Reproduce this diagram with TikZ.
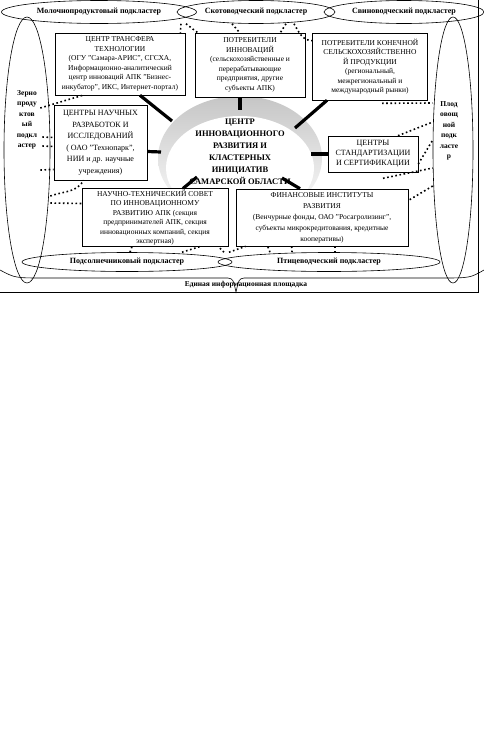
\documentclass[tikz,border=0pt]{standalone}
\usepackage{fontspec}
\setmainfont{Liberation Serif}
\usetikzlibrary{shapes.geometric, calc}
\tikzset{
  orgbox/.style={
    draw,
    fill=white,
    line width=0.6pt,
    align=center,
    inner sep=1pt,
    font=\fontsize{7.5}{9.5}\selectfont
  },
  cluster/.style={
    ellipse,
    draw,
    line width=0.6pt,
    inner sep=0pt,
    font=\fontsize{8}{9}\selectfont\bfseries
  },
  vlabel/.style={
    align=center,
    inner sep=0pt,
    font=\fontsize{7.5}{10.5}\selectfont\bfseries
  },
  hublink/.style={
    line width=3.2pt
  },
  dotlink/.style={
    line width=1.6pt,
    dash pattern=on 1.6pt off 2.6pt
  }
}
\begin{document}
\begin{tikzpicture}[x=1pt, y=-1pt]
  \useasboundingbox (0,0) rectangle (484,742);

  % Hub disc
  \node (hubdisc) [ellipse, minimum width=164pt, minimum height=124pt, top color=gray!45, bottom color=white, inner sep=0pt] at (240,158) {};
  \node (hubcore) [ellipse, minimum width=148pt, minimum height=104pt, fill=white, inner sep=0pt] at (240,168) {};

  % Hub link ends
  \coordinate (hk1) at (172,121);
  \coordinate (hk2) at (240,110);
  \coordinate (hk3) at (295,128);
  \coordinate (hk4) at (161,152);
  \coordinate (hk5) at (311,154);
  \coordinate (hk6) at (282,178);
  \coordinate (hk7) at (197,177);

  % Clusters
  \node (milk) [cluster, minimum width=195pt, minimum height=23pt] at (99,12) {Молочнопродуктовый подкластер};
  \node (skot) [cluster, minimum width=158pt, minimum height=23pt] at (256,12) {Скотоводческий подкластер};
  \node (pig) [cluster, minimum width=160pt, minimum height=23pt] at (404,12) {Свиноводческий подкластер};
  \node (grain) [cluster, minimum width=46pt, minimum height=266pt] at (27,150) {};
  \node (fruit) [cluster, minimum width=40pt, minimum height=266pt] at (453,150) {};
  \node (sun) [cluster, minimum width=210pt, minimum height=19pt] at (127,262) {Подсолнечниковый подкластер};
  \node (bird) [cluster, minimum width=222pt, minimum height=19pt] at (329,262) {Птицеводческий подкластер};
  \node (grainlbl) [vlabel] at (27,120) {Зерно\\проду\\ктов\\ый\\подкл\\астер};
  \node (fruitlbl) [vlabel] at (449,131) {Плод\\овощ\\ной\\подк\\ласте\\р};

  % Boxes
  \node (trans) [orgbox, minimum width=130pt, minimum height=62pt] at (120,64) {ЦЕНТР ТРАНСФЕРА\\ТЕХНОЛОГИИ\\(ОГУ "Самара-АРИС", СГСХА,\\Информационно-аналитический\\центр инноваций АПК "Бизнес-\\инкубатор", ИКС, Интернет-портал)};
  \node (users) [orgbox, minimum width=110pt, minimum height=64pt] at (250,65) {ПОТРЕБИТЕЛИ\\ИННОВАЦИЙ\\(сельскохозяйственные и\\перерабатывающие\\предприятия, другие\\субъекты АПК)};
  \node (market) [orgbox, minimum width=115pt, minimum height=67pt] at (370,66.5) {ПОТРЕБИТЕЛИ КОНЕЧНОЙ\\СЕЛЬСКОХОЗЯЙСТВЕННО\\Й ПРОДУКЦИИ\\(региональный,\\межрегиональный и\\международный рынки)};
  \node (science) [orgbox, font=\fontsize{8}{11.5}\selectfont, minimum width=93pt, minimum height=75pt] at (100.5,142.5) {ЦЕНТРЫ НАУЧНЫХ\\РАЗРАБОТОК И\\ИССЛЕДОВАНИЙ\\( ОАО "Технопарк",\\НИИ и др. научные\\учреждения)};
  \node (standard) [orgbox, font=\fontsize{8}{10}\selectfont, minimum width=90pt, minimum height=36pt] at (373,154) {ЦЕНТРЫ\\СТАНДАРТИЗАЦИИ\\И СЕРТИФИКАЦИИ};
  \node (council) [orgbox, minimum width=146pt, minimum height=57pt] at (155,217.5) {НАУЧНО-ТЕХНИЧЕСКИЙ СОВЕТ\\ПО ИННОВАЦИОННОМУ\\РАЗВИТИЮ АПК (секция\\предпринимателей АПК, секция\\инновационных компаний, секция\\экспертная)};
  \node (finance) [orgbox, font=\fontsize{7.5}{11}\selectfont, minimum width=172pt, minimum height=57pt] at (322,217.5) {ФИНАНСОВЫЕ ИНСТИТУТЫ\\РАЗВИТИЯ\\(Венчурные фонды, ОАО "Росагролизинг",\\субъекты микрокредитования, кредитные\\кооперативы)};

  % Hub links
  \draw [hublink] ([xshift=20pt]trans.south) -- (hk1);
  \draw [hublink] ([xshift=-10pt]users.south) -- (hk2);
  \draw [hublink] ([xshift=-43pt]market.south) -- (hk3);
  \draw [hublink] ([yshift=-9pt]science.east) -- (hk4);
  \draw [hublink] (standard.west) -- (hk5);
  \draw [hublink] (hk6) -- ([xshift=-22pt]finance.north);
  \draw [hublink] (hk7) -- ([xshift=28pt]council.north);

  % Hub text
  \node (hubtext) [align=center, inner sep=0pt, font=\fontsize{8.5}{12}\selectfont\bfseries] at (240,152) {ЦЕНТР\\ИННОВАЦИОННОГО\\РАЗВИТИЯ И\\КЛАСТЕРНЫХ\\ИНИЦИАТИВ\\САМАРСКОЙ ОБЛАСТИ};

  % Dotted links, top
  \draw [dotlink] ([xshift=82pt]milk.south) -- ([xshift=-5pt]trans.north east);
  \draw [dotlink] ([xshift=-70pt]skot.south) -- ([xshift=3pt]users.north west);
  \draw [dotlink] ([xshift=-24pt]skot.south) -- ([xshift=45pt]users.north west);
  \draw [dotlink] ([xshift=30pt]skot.south) -- ([xshift=-25pt]users.north east);
  \draw [dotlink] ([xshift=38pt]skot.south) to[out=-60, in=180] ([yshift=-8pt]market.north west);

  % Dotted links, right
  \draw [dotlink] ([xshift=12pt, yshift=-3pt]market.south) -- ([yshift=47pt]fruit.west);
  \draw [dotlink] ([xshift=25pt]standard.north) -- ([yshift=28pt]fruit.west);
  \draw [dotlink] ([yshift=-10pt]standard.east) -- ([yshift=10pt]fruit.west);
  \draw [dotlink] ([xshift=10pt, yshift=-6pt]standard.south) -- ([yshift=-18pt]fruit.west);
  \draw [dotlink] ([yshift=-36pt]fruit.west) -- ([yshift=17pt]finance.east);

  % Dotted links, left
  \draw [dotlink] ([xshift=-10pt, yshift=42pt]grain.east) -- ([xshift=28pt]trans.south west);
  \draw [dotlink] ([xshift=-8pt, yshift=13pt]grain.east) -- ([yshift=5pt]science.west);
  \draw [dotlink] ([xshift=-8pt, yshift=4pt]grain.east) -- ([yshift=-4pt]science.west);
  \draw [dotlink] ([xshift=-10pt, yshift=-20pt]grain.east) -- ([yshift=-27pt]science.west);
  \draw [dotlink] ([yshift=-46pt]grain.east) to[out=20, in=-120] ([xshift=30pt]science.south west);
  \draw [dotlink] ([yshift=-53pt]grain.east) -- ([yshift=14pt]council.west);

  % Dotted links, bottom
  \draw [dotlink] ([xshift=3pt]sun.north) -- ([xshift=-23pt]council.south);
  \draw [dotlink] ([xshift=55pt]sun.north) -- ([xshift=45pt]council.south);
  \draw [dotlink] ([xshift=97pt]sun.north) -- ([xshift=-10pt]council.south east);
  \draw [dotlink] ([xshift=-100pt]bird.north) -- ([xshift=10pt]finance.south west);
  \draw [dotlink] ([xshift=-59pt]bird.north) -- ([xshift=32pt]finance.south west);
  \draw [dotlink] ([xshift=-37pt]bird.north) -- ([xshift=56pt]finance.south west);
  \draw [dotlink] ([xshift=6pt]bird.north) -- ([xshift=13pt]finance.south);

  % Information platform
  \draw [line width=0.6pt] (0,270) .. controls (15,278) .. (45,278) -- (228,278) .. controls (233,279) .. (236,292) .. controls (239,279) .. (244,278) -- (440,278) .. controls (470,278) .. (484,270);
  \node (infolbl) [inner sep=0pt, font=\fontsize{7.5}{9}\selectfont\bfseries] at (246,285) {Единая информационная площадка};

  % Frame
  \draw [line width=0.6pt] (478,0) -- (478,292) -- (0,292);
\end{tikzpicture}
\end{document}
